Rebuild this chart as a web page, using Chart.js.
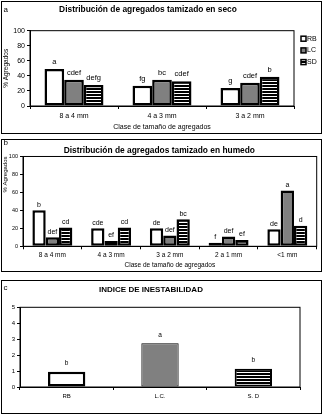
<!DOCTYPE html>
<html>
<head>
<meta charset="utf-8">
<script src="https://cdn.jsdelivr.net/npm/chart.js@4.4.1/dist/chart.umd.min.js"></script>
<style>
  body { margin: 0; width: 323px; height: 414px; background: #fff; position: relative; overflow: hidden; }
  .panel { position: absolute; left: 1px; width: 321px; border: 1px solid #000; box-sizing: border-box; }
  .wrap { position: absolute; left: 2px; width: 318px; }
  canvas { display: block; }
</style>
</head>
<body>
<div class="panel" style="top:1px;height:133px"></div>
<div class="panel" style="top:139px;height:133px"></div>
<div class="panel" style="top:280px;height:134px"></div>
<div class="wrap" style="top:2px"><canvas id="chartA" width="318" height="130"></canvas></div>
<div class="wrap" style="top:140px"><canvas id="chartB" width="318" height="130"></canvas></div>
<div class="wrap" style="top:281px"><canvas id="chartC" width="318" height="131"></canvas></div>
<script>
// panel a - dry sieving
const classesDry = ["8 a 4 mm", "4 a 3 mm", "3 a 2 mm"];
const rbDry = [49, 27, 24];
const lcDry = [35, 35, 31];
const sdDry = [28, 33, 39];
const rbDryLetters = ["a", "fg", "g"];
const lcDryLetters = ["cdef", "bc", "cdef"];
const sdDryLetters = ["defg", "cdef", "b"];

// panel b - wet sieving
const classesWet = ["8 a 4 mm", "4 a 3 mm", "3 a 2 mm", "2 a 1 mm", "<1 mm"];
const rbWet = [40, 20, 20, 4, 19];
const lcWet = [10, 6, 12, 11, 62];
const sdWet = [21, 21, 30, 7, 23];
const rbWetLetters = ["b", "cde", "de", "f", "de"];
const lcWetLetters = ["def", "ef", "def", "def", "a"];
const sdWetLetters = ["cd", "cd", "bc", "ef", "d"];

// panel c - instability index
const treatments = ["RB", "L.C.", "S. D"];
const instability = [0.95, 2.75, 1.15];
const instabilityLetters = ["b", "a", "b"];

const seriesNames = ["RB", "LC", "SD"];

const FONT = "'Liberation Sans', Arial, sans-serif";
Chart.defaults.font.family = FONT;
Chart.defaults.color = "#000";

// black with thin white horizontal stripes
const stripeCanvas = document.createElement("canvas");
stripeCanvas.width = 4;
stripeCanvas.height = 3;
const sctx = stripeCanvas.getContext("2d");
sctx.fillStyle = "#000";
sctx.fillRect(0, 0, 4, 3);
sctx.fillStyle = "#fff";
sctx.fillRect(0, 1, 4, 1);
const stripes = sctx.createPattern(stripeCanvas, "repeat");

const GRAY = "#808080";

const annotate = {
  id: "annotate",
  afterDraw(chart, args, opts) {
    const ctx = chart.ctx;
    const area = chart.chartArea;
    ctx.save();
    // plot frame
    ctx.strokeStyle = "#000";
    ctx.lineWidth = 1;
    ctx.strokeRect(area.left, area.top, area.right - area.left, area.bottom - area.top);

    // letters above bars
    ctx.fillStyle = "#000";
    ctx.font = opts.letterSize + "px " + FONT;
    ctx.textAlign = "center";
    ctx.textBaseline = "bottom";
    (opts.letters || []).forEach((row, i) => {
      const meta = chart.getDatasetMeta(i);
      meta.data.forEach((bar, j) => {
        ctx.fillText(row[j], bar.x, bar.y - opts.letterGap);
      });
    });

    // panel tag
    if (opts.tag) {
      ctx.font = "8px " + FONT;
      ctx.textAlign = "left";
      ctx.textBaseline = "middle";
      ctx.fillText(opts.tag.text, opts.tag.x, opts.tag.y);
    }

    // legend
    if (opts.legend) {
      const lg = opts.legend;
      ctx.font = "7px " + FONT;
      ctx.textAlign = "left";
      ctx.textBaseline = "middle";
      chart.data.datasets.forEach((ds, i) => {
        const cy = lg.y + i * lg.step;
        ctx.fillStyle = ds.backgroundColor;
        ctx.fillRect(lg.x, cy - 2.5, 5, 5);
        ctx.strokeStyle = "#000";
        ctx.lineWidth = 1.5;
        ctx.strokeRect(lg.x, cy - 2.5, 5, 5);
        ctx.fillStyle = "#000";
        ctx.fillText(ds.label, lg.x + 6, cy);
      });
    }
    ctx.restore();
  }
};

function yAxis(width, max, step, size, title) {
  return {
    min: 0,
    max: max,
    afterFit: (s) => { s.width = width; },
    ticks: { stepSize: step, font: { size: size }, padding: 2, color: "#000" },
    grid: { drawOnChartArea: false, drawTicks: true, tickLength: 3, color: "#000" },
    border: { color: "#000", width: 1 },
    title: title
  };
}

function xAxis(height, size, pad, title) {
  return {
    afterFit: (s) => { s.height = height; },
    ticks: { font: { size: size }, padding: pad, color: "#000", maxRotation: 0, autoSkip: false },
    grid: { drawOnChartArea: false, drawTicks: true, tickLength: 3, color: "#000", offset: true },
    border: { color: "#000", width: 1 },
    title: title
  };
}

function barSet(label, data, color, width) {
  return {
    label: label,
    data: data,
    backgroundColor: color,
    borderColor: "#000",
    borderWidth: width,
    borderSkipped: false
  };
}

new Chart(document.getElementById("chartA"), {
  type: "bar",
  data: {
    labels: classesDry,
    datasets: [
      barSet(seriesNames[0], rbDry, "#fff", 2.5),
      barSet(seriesNames[1], lcDry, GRAY, 2.5),
      barSet(seriesNames[2], sdDry, stripes, 2.5)
    ]
  },
  options: {
    responsive: false,
    animation: false,
    devicePixelRatio: 1,
    categoryPercentage: 0.67,
    barPercentage: 1,
    layout: { padding: { top: 0, right: 26, bottom: 0, left: 0 } },
    scales: {
      x: xAxis(26, 7, 3, { display: true, text: "Clase de tamaño de agregados", font: { size: 7 }, padding: { top: 0, bottom: 1 }, color: "#000" }),
      y: yAxis(28, 100, 20, 7, { display: true, text: "% Agregados", font: { size: 6.5 }, padding: { top: 0, bottom: 0 }, color: "#000" })
    },
    plugins: {
      legend: { display: false },
      tooltip: { enabled: false },
      title: {
        display: true,
        text: "Distribución de agregados tamizado en seco",
        font: { size: 8.4, weight: "bold" },
        color: "#000",
        padding: { top: 3, bottom: 15.6 }
      },
      annotate: {
        letters: [rbDryLetters, lcDryLetters, sdDryLetters],
        letterSize: 7.5,
        letterGap: 3,
        tag: { text: "a", x: 1.5, y: 7.5 },
        legend: { x: 299, y: 36.7, step: 11.7 }
      }
    }
  },
  plugins: [annotate]
});

new Chart(document.getElementById("chartB"), {
  type: "bar",
  data: {
    labels: classesWet,
    datasets: [
      barSet(seriesNames[0], rbWet, "#fff", 2.5),
      barSet(seriesNames[1], lcWet, GRAY, 2.5),
      barSet(seriesNames[2], sdWet, stripes, 2.5)
    ]
  },
  options: {
    responsive: false,
    animation: false,
    devicePixelRatio: 1,
    categoryPercentage: 0.68,
    barPercentage: 1,
    layout: { padding: { top: 0, right: 3.3, bottom: 0, left: 0 } },
    scales: {
      x: xAxis(23.7, 6.5, 2, { display: true, text: "Clase de tamaño de agregados", font: { size: 6.5 }, padding: { top: 0, bottom: 0.6 }, color: "#000" }),
      y: yAxis(21, 100, 10, 5.5, { display: true, text: "% Agregados", font: { size: 6 }, align: "end", padding: { top: -0.6, bottom: 0 }, color: "#000" })
    },
    plugins: {
      legend: { display: false },
      tooltip: { enabled: false },
      title: {
        display: true,
        text: "Distribución de agregados tamizado en humedo",
        font: { size: 8.4, weight: "bold" },
        color: "#000",
        padding: { top: 6, bottom: 0.4 }
      },
      annotate: {
        letters: [rbWetLetters, lcWetLetters, sdWetLetters],
        letterSize: 7,
        letterGap: 2,
        tag: { text: "b", x: 1.5, y: 2.5 }
      }
    }
  },
  plugins: [annotate]
});

new Chart(document.getElementById("chartC"), {
  type: "bar",
  data: {
    labels: treatments,
    datasets: [{
      label: "Indice de inestabilidad",
      data: instability,
      backgroundColor: ["#fff", GRAY, stripes],
      borderColor: "#000",
      borderWidth: [2.5, 1, 2],
      borderSkipped: false
    }]
  },
  options: {
    responsive: false,
    animation: false,
    devicePixelRatio: 1,
    categoryPercentage: 0.4,
    barPercentage: 1,
    layout: { padding: { top: 0, right: 20, bottom: 0, left: 0 } },
    scales: {
      x: xAxis(25, 6, 3, { display: false }),
      y: yAxis(18, 5, 1, 6, { display: false })
    },
    plugins: {
      legend: { display: false },
      tooltip: { enabled: false },
      title: {
        display: true,
        text: "INDICE DE INESTABILIDAD",
        font: { size: 8, weight: "bold" },
        color: "#000",
        padding: { top: 4.2, bottom: 12.5 }
      },
      annotate: {
        letters: [instabilityLetters],
        letterSize: 6.5,
        letterGap: 5,
        tag: { text: "c", x: 1.5, y: 7 }
      }
    }
  },
  plugins: [annotate]
});
</script>
</body>
</html>
